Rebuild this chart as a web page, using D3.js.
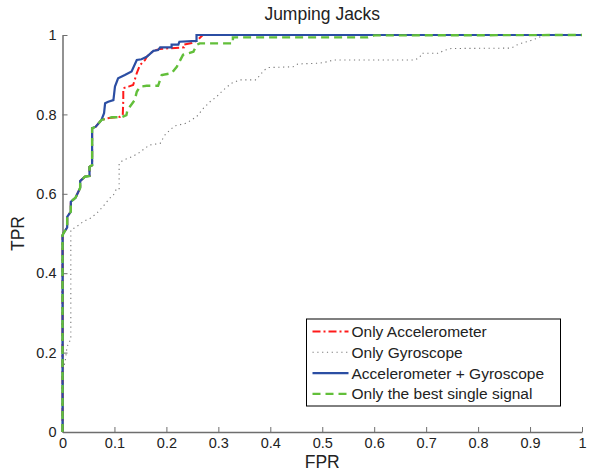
<!DOCTYPE html>
<html lang="en">
<head>
<meta charset="UTF-8">
<title>Jumping Jacks ROC</title>
<script src="https://d3js.org/d3.v7.min.js"></script>
<style>
  body { margin: 0; background: #fff; }
  text { font-family: "Liberation Sans", Arial, sans-serif; fill: #222; }
</style>
</head>
<body>
<script>
// ROC points, [FPR, TPR]
const accOnly = [
  [0,0],[0,0.495],[0.0015,0.50],[0.009,0.515],[0.009,0.542],[0.016,0.555],[0.016,0.58],
  [0.025,0.59],[0.034,0.615],[0.034,0.632],[0.043,0.643],[0.052,0.645],[0.052,0.668],
  [0.057,0.672],[0.057,0.765],[0.064,0.769],[0.075,0.786],[0.085,0.790],[0.111,0.794],
  [0.116,0.798],[0.117,0.836],[0.117,0.866],[0.127,0.870],[0.136,0.874],[0.143,0.904],
  [0.149,0.924],[0.159,0.937],[0.162,0.945],[0.175,0.960],[0.188,0.965],[0.234,0.969],
  [0.234,0.976],[0.249,0.980],[0.258,0.985],[0.27,1],[1,1]
];
const gyroOnly = [
  [0,0],[0.002,0.16],[0.005,0.177],[0.008,0.207],[0.011,0.224],[0.016,0.232],[0.016,0.509],
  [0.027,0.517],[0.04,0.53],[0.053,0.538],[0.066,0.551],[0.078,0.568],[0.091,0.589],
  [0.098,0.597],[0.103,0.61],[0.109,0.61],[0.109,0.677],[0.117,0.685],[0.133,0.693],
  [0.146,0.702],[0.159,0.715],[0.168,0.723],[0.188,0.727],[0.197,0.748],[0.207,0.761],
  [0.216,0.771],[0.239,0.778],[0.248,0.786],[0.258,0.794],[0.271,0.815],[0.284,0.832],
  [0.297,0.845],[0.309,0.861],[0.325,0.878],[0.341,0.887],[0.373,0.887],[0.38,0.899],
  [0.389,0.912],[0.396,0.918],[0.444,0.920],[0.453,0.927],[0.495,0.929],[0.511,0.933],
  [0.521,0.937],[0.678,0.937],[0.688,0.944],[0.691,0.954],[0.726,0.954],[0.732,0.960],
  [0.748,0.966],[0.864,0.967],[0.873,0.974],[0.883,0.979],[0.899,0.985],[0.912,0.991],
  [0.922,0.997],[0.931,1],[1,1]
];
const accGyro = [
  [0,0],[0,0.495],[0.0015,0.50],[0.009,0.515],[0.009,0.542],[0.016,0.555],[0.016,0.58],
  [0.025,0.59],[0.034,0.615],[0.034,0.632],[0.043,0.643],[0.052,0.645],[0.052,0.668],
  [0.057,0.672],[0.057,0.765],[0.064,0.769],[0.075,0.786],[0.08,0.803],[0.082,0.828],
  [0.088,0.832],[0.098,0.836],[0.101,0.870],[0.107,0.891],[0.12,0.899],[0.133,0.908],
  [0.143,0.937],[0.152,0.939],[0.162,0.945],[0.175,0.960],[0.184,0.962],[0.188,0.969],
  [0.21,0.969],[0.21,0.976],[0.223,0.976],[0.225,0.983],[0.258,0.985],[0.258,1],[1,1]
];
const bestSingle = [
  [0,0],[0,0.495],[0.0015,0.50],[0.009,0.515],[0.009,0.542],[0.016,0.555],[0.016,0.58],
  [0.025,0.59],[0.034,0.615],[0.034,0.632],[0.043,0.643],[0.052,0.645],[0.052,0.668],
  [0.057,0.672],[0.057,0.765],[0.064,0.769],[0.075,0.786],[0.095,0.793],[0.114,0.793],
  [0.123,0.798],[0.125,0.811],[0.139,0.836],[0.143,0.857],[0.149,0.870],[0.162,0.872],
  [0.184,0.872],[0.191,0.899],[0.21,0.904],[0.22,0.920],[0.232,0.950],[0.252,0.958],
  [0.258,0.975],[0.264,0.979],[0.328,0.979],[0.328,0.994],[0.588,0.994],[0.6,0.999],[1,1]
];
const seriesNames = ["Only Accelerometer", "Only Gyroscope", "Accelerometer + Gyroscope", "Only the best single signal"];
const xTicks = [0, 0.1, 0.2, 0.3, 0.4, 0.5, 0.6, 0.7, 0.8, 0.9, 1];
const yTicks = [0, 0.2, 0.4, 0.6, 0.8, 1];

const width = 590, height = 472;
const margin = {left: 62.5, right: 8, top: 35, bottom: 40};

const svg = d3.select("body").append("svg")
  .attr("width", width)
  .attr("height", height);

const x = d3.scaleLinear().domain([0, 1]).range([margin.left, width - margin.right]);
const y = d3.scaleLinear().domain([0, 1]).range([height - margin.bottom, margin.top]);

// axes, ticks pointing into the plot
const xAxis = svg.append("g")
  .attr("transform", `translate(0,${y(0)})`)
  .call(d3.axisBottom(x).tickValues(xTicks).tickSizeInner(-5).tickSizeOuter(0).tickPadding(6)
    .tickFormat(d => d3.format("")(d)));
const yAxis = svg.append("g")
  .attr("transform", `translate(${x(0)},0)`)
  .call(d3.axisLeft(y).tickValues(yTicks).tickSizeInner(-5).tickSizeOuter(0).tickPadding(6)
    .tickFormat(d => d3.format("")(d)));
[xAxis, yAxis].forEach(g => {
  g.select(".domain").attr("stroke", "#6e6e6e").attr("stroke-width", 1.5);
  g.selectAll(".tick line").attr("stroke", "#6e6e6e");
  g.selectAll(".tick text").attr("font-size", 14.5).attr("font-family", "Liberation Sans, Arial, sans-serif").attr("fill", "#222");
});

const styles = [
  {color: "#ff1a1a", width: 2, dash: "8,3,2,3"},
  {color: "#777777", width: 1.1, dash: "1.2,3.6"},
  {color: "#2b4ea3", width: 2.2, dash: null},
  {color: "#62bf3a", width: 2.4, dash: "8,5"}
];

const line = d3.line().x(d => x(d[0])).y(d => y(d[1]));
[accOnly, gyroOnly, accGyro, bestSingle].forEach((data, i) => {
  svg.append("path")
    .datum(data)
    .attr("d", line)
    .attr("fill", "none")
    .attr("stroke", styles[i].color)
    .attr("stroke-width", styles[i].width)
    .attr("stroke-dasharray", styles[i].dash);
});

// title and axis labels
svg.append("text").attr("x", (x(0) + x(1)) / 2).attr("y", 20)
  .attr("text-anchor", "middle").attr("font-size", 17.5).text("Jumping Jacks");
svg.append("text").attr("x", (x(0) + x(1)) / 2).attr("y", 468)
  .attr("text-anchor", "middle").attr("font-size", 17.5).text("FPR");
svg.append("text").attr("transform", `translate(23.5,${(y(0) + y(1)) / 2}) rotate(-90)`)
  .attr("text-anchor", "middle").attr("font-size", 17.5).text("TPR");

// legend
const legend = svg.append("g").attr("transform", "translate(306.5,319)");
legend.append("rect").attr("width", 254).attr("height", 87)
  .attr("fill", "#fff").attr("stroke", "#000").attr("stroke-width", 1);
seriesNames.forEach((name, i) => {
  const cy = 12.5 + i * 20.8;
  legend.append("line").attr("x1", 6).attr("x2", 42).attr("y1", cy).attr("y2", cy)
    .attr("stroke", styles[i].color).attr("stroke-width", styles[i].width)
    .attr("stroke-dasharray", styles[i].dash);
  legend.append("text").attr("x", 45).attr("y", cy).attr("dy", "0.35em")
    .attr("font-size", 15.5).text(name);
});
</script>
</body>
</html>
